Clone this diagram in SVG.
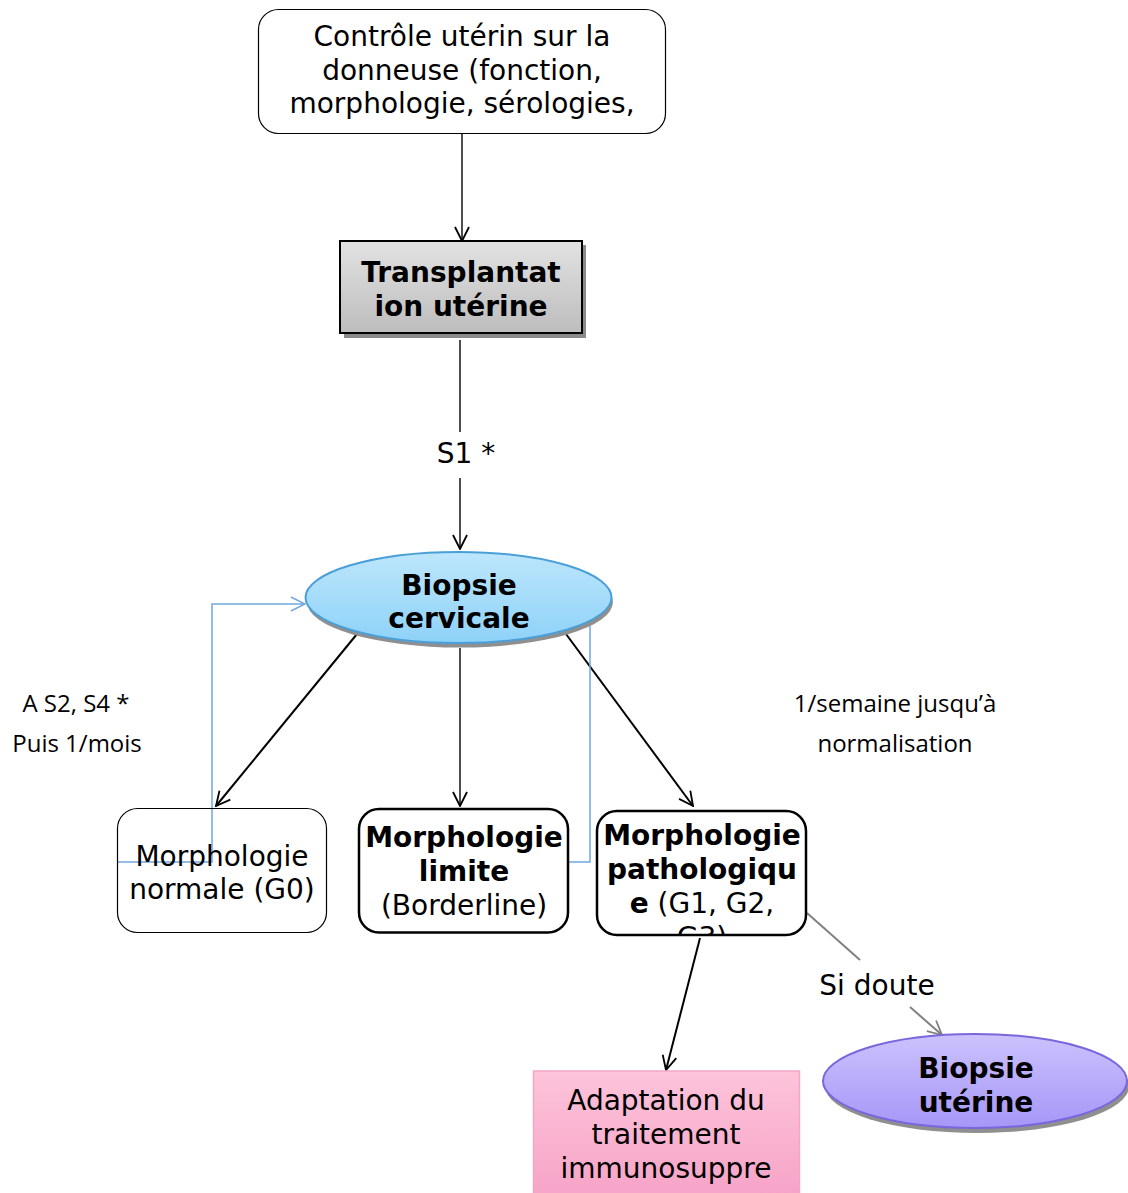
<svg xmlns="http://www.w3.org/2000/svg" width="1128" height="1193" viewBox="0 0 1128 1193">
<style>
text{font-family:"DejaVu Sans",Verdana,sans-serif;font-size:28px;fill:#000;text-anchor:middle}
.b{font-weight:bold}
.c{font-family:"Open Sans","Liberation Sans",sans-serif;font-size:24px}
.k{fill:none;stroke:#000;stroke-width:2}
.t{fill:none;stroke:#000;stroke-width:1.4}
</style>
<defs>
<marker id="ah" viewBox="0 0 16 16" refX="15" refY="8" markerWidth="16" markerHeight="16" markerUnits="userSpaceOnUse" orient="auto"><path d="M1,1 L15,8 L1,15" fill="none" stroke="#000" stroke-width="1.8"/></marker>
<marker id="ag" viewBox="0 0 16 16" refX="15" refY="8" markerWidth="16" markerHeight="16" markerUnits="userSpaceOnUse" orient="auto"><path d="M1,1 L15,8 L1,15" fill="none" stroke="#808080" stroke-width="1.8"/></marker>
<marker id="ab" viewBox="0 0 16 16" refX="15" refY="8" markerWidth="16" markerHeight="16" markerUnits="userSpaceOnUse" orient="auto"><path d="M1,1 L15,8 L1,15" fill="none" stroke="#6fa8dc" stroke-width="1.5"/></marker>
<linearGradient id="gGray" x1="0" y1="0" x2="0" y2="1"><stop offset="0" stop-color="#e2e2e2"/><stop offset="1" stop-color="#bdbdbd"/></linearGradient>
<linearGradient id="gBlue" x1="0" y1="0" x2="0" y2="1"><stop offset="0" stop-color="#bde6fc"/><stop offset="1" stop-color="#8ed2f8"/></linearGradient>
<linearGradient id="gPink" x1="0" y1="0" x2="0" y2="1"><stop offset="0" stop-color="#fdc4da"/><stop offset="1" stop-color="#f6a2c6"/></linearGradient>
<linearGradient id="gPurp" x1="0" y1="0" x2="0" y2="1"><stop offset="0" stop-color="#ccc2fd"/><stop offset="1" stop-color="#a696f7"/></linearGradient>
<clipPath id="clipTop"><rect x="259" y="10" width="406" height="123" rx="19"/></clipPath>
<clipPath id="clipPatho"><rect x="597" y="811" width="209" height="124" rx="19"/></clipPath>
</defs>

<g id="connectors">
<line class="t" x1="462" y1="134" x2="462" y2="241" marker-end="url(#ah)"/>
<line class="t" x1="460" y1="340" x2="460" y2="432"/>
<line class="t" x1="460" y1="478" x2="460" y2="549" marker-end="url(#ah)"/>
<line class="k" x1="357" y1="634" x2="216" y2="806" marker-end="url(#ah)"/>
<line class="t" x1="460" y1="648" x2="460" y2="806" marker-end="url(#ah)"/>
<line class="k" x1="566" y1="634" x2="693" y2="806" marker-end="url(#ah)"/>
<line class="k" x1="700" y1="938" x2="666" y2="1070" marker-end="url(#ah)"/>
<polyline points="117,862 212,862 212,604 305,604" fill="none" stroke="#6fa8dc" stroke-width="1.5" marker-end="url(#ab)"/>
<polyline points="569,862 590,862 590,623" fill="none" stroke="#6fa8dc" stroke-width="1.5"/>
<line x1="807" y1="913" x2="860" y2="960" stroke="#808080" stroke-width="2"/>
<line x1="910" y1="1007" x2="942" y2="1035" stroke="#808080" stroke-width="2" marker-end="url(#ag)"/>
<text x="466" y="463">S1 *</text>
<text x="877" y="995">Si doute</text>
</g>

<g id="n-controle">
<rect x="258.5" y="9.5" width="407" height="124" rx="20" fill="#fff" stroke="#000" stroke-width="1.2"/>
<g clip-path="url(#clipTop)">
<text x="462" y="46">Contrôle utérin sur la</text>
<text x="462" y="80">donneuse (fonction,</text>
<text x="462" y="113">morphologie, sérologies,</text>
</g>
</g>

<g id="n-transplantation">
<rect x="344" y="245" width="242" height="93" fill="#8a8a8a"/>
<rect x="340" y="241" width="242" height="92" fill="url(#gGray)" stroke="#000" stroke-width="2"/>
<text class="b" x="461" y="282">Transplantat</text>
<text class="b" x="461" y="316">ion utérine</text>
</g>

<g id="n-biopsie-cervicale">
<ellipse cx="460" cy="602" rx="153" ry="45.5" fill="#8f8f8f"/>
<ellipse cx="458.5" cy="597.5" rx="153" ry="45.5" fill="url(#gBlue)" stroke="#4a9fd8" stroke-width="2"/>
<text class="b" x="459" y="595">Biopsie</text>
<text class="b" x="459" y="628">cervicale</text>
</g>

<g id="n-normale">
<rect x="117.5" y="808.5" width="209" height="124" rx="20" fill="none" stroke="#000" stroke-width="1.2"/>
<text x="222" y="866">Morphologie</text>
<text x="222" y="899">normale (G0)</text>
</g>

<g id="n-limite">
<rect x="359" y="809" width="209" height="123.5" rx="20" fill="#fff" stroke="#000" stroke-width="2.5"/>
<text class="b" x="464" y="847">Morphologie</text>
<text class="b" x="464" y="881">limite</text>
<text x="464" y="915">(Borderline)</text>
</g>

<g id="n-pathologique">
<rect x="597" y="811" width="209" height="124" rx="20" fill="#fff" stroke="#000" stroke-width="2.5"/>
<g clip-path="url(#clipPatho)">
<text class="b" x="702" y="845">Morphologie</text>
<text class="b" x="702" y="879">pathologiqu</text>
<text x="702" y="913"><tspan font-weight="bold">e</tspan> (G1, G2,</text>
<text x="702" y="947">G3)</text>
</g>
</g>

<g id="n-adaptation">
<rect x="533.5" y="1071" width="266" height="130" fill="url(#gPink)" stroke="#f3a6c8" stroke-width="1.5"/>
<text x="666" y="1110">Adaptation du</text>
<text x="666" y="1144">traitement</text>
<text x="666" y="1178">immunosuppre</text>
</g>

<g id="n-biopsie-uterine">
<ellipse cx="977" cy="1086" rx="152" ry="47" fill="#8f8f8f"/>
<ellipse cx="975" cy="1081" rx="152" ry="47" fill="url(#gPurp)" stroke="#7a66dd" stroke-width="2"/>
<text class="b" x="976" y="1078">Biopsie</text>
<text class="b" x="976" y="1112">utérine</text>
</g>

<g id="labels">
<text class="c" x="76" y="712">A S2, S4 *</text>
<text class="c" x="77" y="752">Puis 1/mois</text>
<text class="c" x="895" y="712">1/semaine jusqu’à</text>
<text class="c" x="895" y="752">normalisation</text>
</g>
</svg>
